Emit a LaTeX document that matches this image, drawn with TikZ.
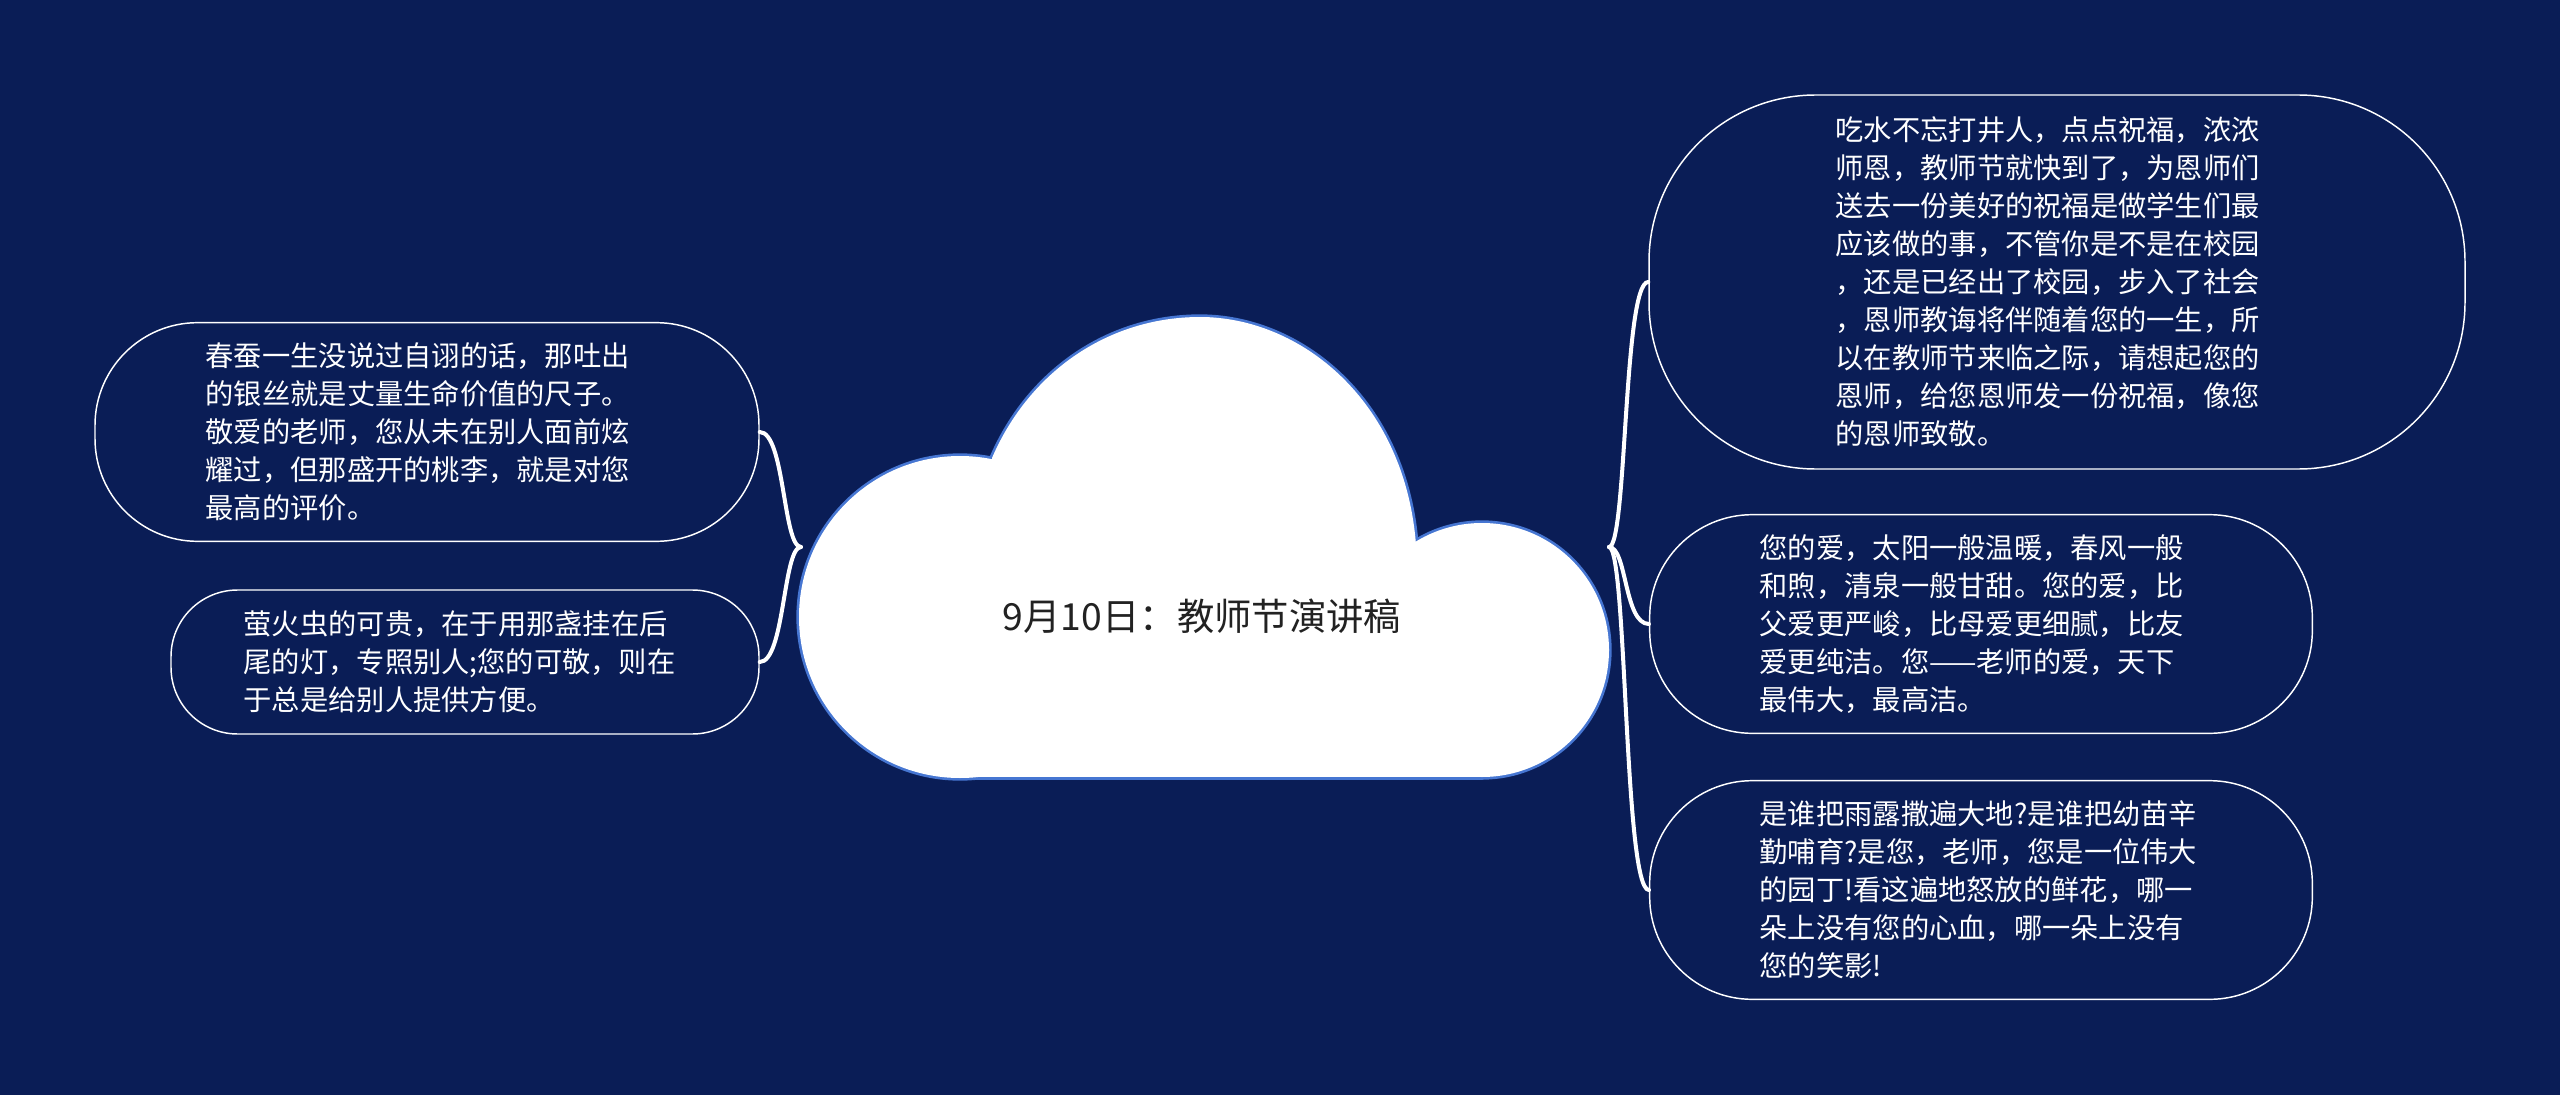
\documentclass[tikz,border=0pt]{standalone}
\usepackage{fontspec}
\setmainfont{Noto Sans CJK SC}
\usetikzlibrary{calc}
\definecolor{bg}{RGB}{10,29,86}
\definecolor{cloudedge}{RGB}{70,118,210}
\definecolor{titlecol}{RGB}{34,34,34}
\newcommand\cloudparts[1]{%
  \path[#1] (960,617) circle[radius=161];
  \path[#1] (1482,650) circle[radius=127];
  \path[#1] (992,458) .. controls (1030,370) and (1110,317) .. (1200,317)
            .. controls (1300,317) and (1405,400) .. (1416,545)
            -- (1416,700) -- (992,700) -- cycle;
  \path[#1] (960,560) rectangle (1482,777);
}
\begin{document}
\begin{tikzpicture}[x=0.75pt,y=-0.75pt,
  bodytext/.style={text=white, font=\fontsize{21.2pt}{28.5pt}\selectfont,
    text width=332pt, align=left, inner sep=0pt},
  pill/.style={draw=white, line width=1.1pt},
  conn/.style={draw=white, line width=3pt, line cap=round},
  titletext/.style={text=titlecol, font=\fontsize{28pt}{34pt}\selectfont}
]
\fill[bg] (0,0) rectangle (2560,1095);
\useasboundingbox (0,0) rectangle (2560,1095);

% cloud
\cloudparts{draw=cloudedge, line width=4pt, line join=round}
\cloudparts{fill=white}
\node[titletext] (title) at (1202,616) {9月10日：教师节演讲稿};

\coordinate (cl) at (801,547);
\coordinate (cr) at (1609,547);

% right boxes
\node[pill, bodytext, rounded corners=125pt, minimum width=612pt, minimum height=280.5pt] (r1) at (2057,282)
{吃水不忘打井人，点点祝福，浓浓\\
师恩，教师节就快到了，为恩师们\\
送去一份美好的祝福是做学生们最\\
应该做的事，不管你是不是在校园\\
，还是已经出了校园，步入了社会\\
，恩师教诲将伴随着您的一生，所\\
以在教师节来临之际，请想起您的\\
恩师，给您恩师发一份祝福，像您\\
的恩师致敬。};

\node[pill, bodytext, rounded corners=77pt, minimum width=497pt, minimum height=164pt] (r2) at (1981,624)
{您的爱，太阳一般温暖，春风一般\\
和煦，清泉一般甘甜。您的爱，比\\
父爱更严峻，比母爱更细腻，比友\\
爱更纯洁。您——老师的爱，天下\\
最伟大，最高洁。};

\node[pill, bodytext, rounded corners=77pt, minimum width=497pt, minimum height=164pt] (r3) at (1981,890)
{是谁把雨露撒遍大地?是谁把幼苗辛\\
勤哺育?是您，老师，您是一位伟大\\
的园丁!看这遍地怒放的鲜花，哪一\\
朵上没有您的心血，哪一朵上没有\\
您的笑影!};

% left boxes
\node[pill, bodytext, rounded corners=77pt, minimum width=498pt, minimum height=164pt] (l1) at (427,432)
{春蚕一生没说过自诩的话，那吐出\\
的银丝就是丈量生命价值的尺子。\\
敬爱的老师，您从未在别人面前炫\\
耀过，但那盛开的桃李，就是对您\\
最高的评价。};

\node[pill, bodytext, rounded corners=50pt, minimum width=441pt, minimum height=108pt] (l2) at (465,662)
{萤火虫的可贵，在于用那盏挂在后\\
尾的灯，专照别人;您的可敬，则在\\
于总是给别人提供方便。};

% connectors
\draw[conn] (l1.east) .. controls +(25,0) and +(-18,0) .. (cl);
\draw[conn] (l2.east) .. controls +(25,0) and +(-18,0) .. (cl);
\draw[conn] (cr) .. controls +(18,0) and +(-25,0) .. (r1.west);
\draw[conn] (cr) .. controls +(18,0) and +(-25,0) .. (r2.west);
\draw[conn] (cr) .. controls +(18,0) and +(-25,0) .. (r3.west);
\end{tikzpicture}
\end{document}
